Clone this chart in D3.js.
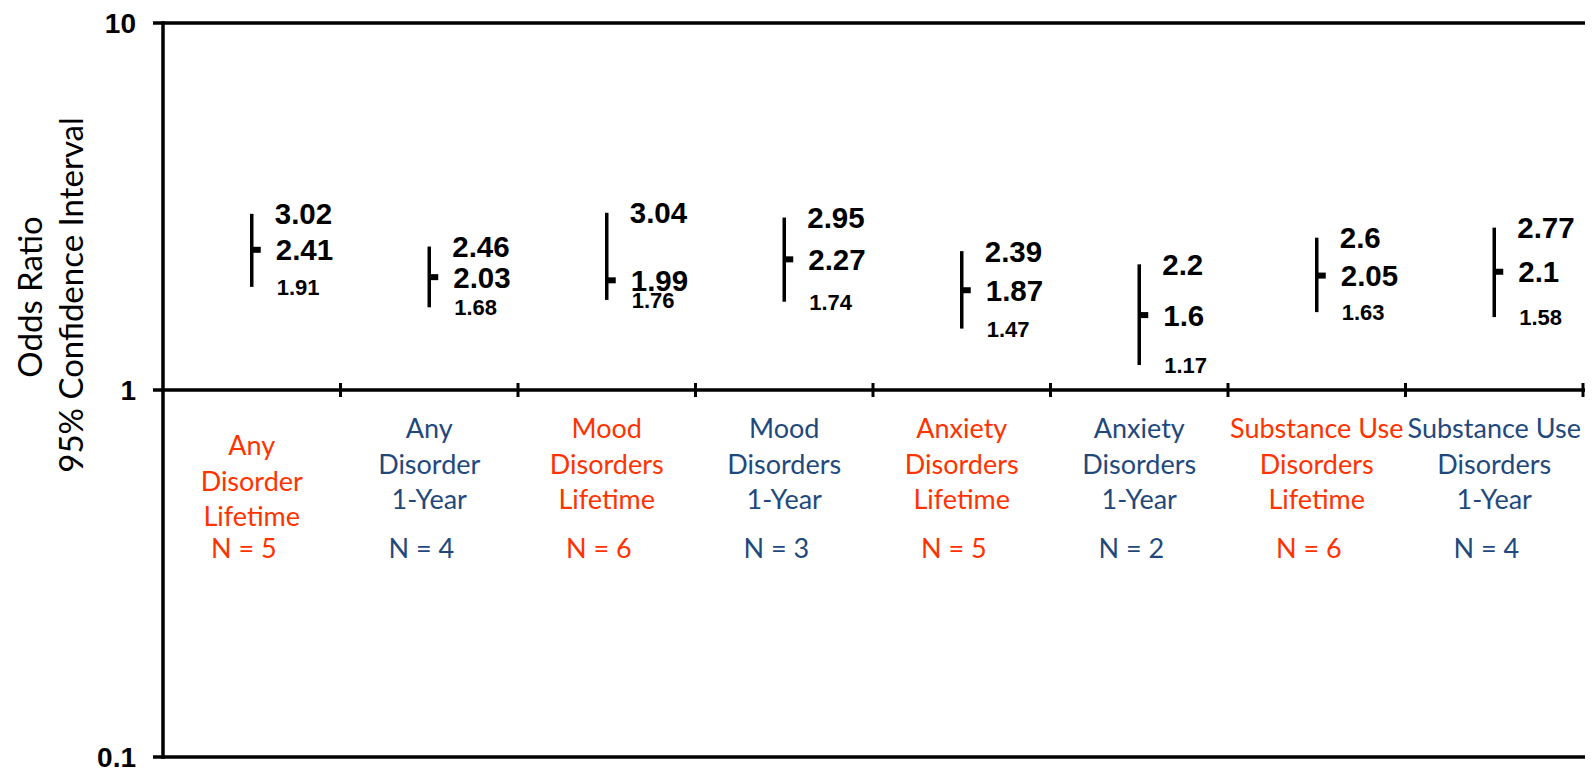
<!DOCTYPE html>
<html>
<head>
<meta charset="utf-8">
<script src="https://cdn.jsdelivr.net/npm/d3@7"></script>
<style>
  html, body { margin: 0; padding: 0; background: #fff; }
</style>
</head>
<body>
<div id="chart"></div>
<script>
// categories and their label lines
const categories = [
    "Any Disorder Lifetime", "Any Disorder 1-Year",
    "Mood Disorders Lifetime", "Mood Disorders 1-Year",
    "Anxiety Disorders Lifetime", "Anxiety Disorders 1-Year",
    "Substance Use Disorders Lifetime", "Substance Use Disorders 1-Year"
];
const labelLines = [
    ["Any", "Disorder", "Lifetime"], ["Any", "Disorder", "1-Year"],
    ["Mood", "Disorders", "Lifetime"], ["Mood", "Disorders", "1-Year"],
    ["Anxiety", "Disorders", "Lifetime"], ["Anxiety", "Disorders", "1-Year"],
    ["Substance Use", "Disorders", "Lifetime"], ["Substance Use", "Disorders", "1-Year"]
];
const periods = ["Lifetime", "1-Year", "Lifetime", "1-Year", "Lifetime", "1-Year", "Lifetime", "1-Year"];
const sampleSizes = [5, 4, 6, 3, 5, 2, 6, 4];

// odds ratios with 95% CI
const upperCI = [3.02, 2.46, 3.04, 2.95, 2.39, 2.2, 2.6, 2.77];
const oddsRatio = [2.41, 2.03, 1.99, 2.27, 1.87, 1.6, 2.05, 2.1];
const lowerCI = [1.91, 1.68, 1.76, 1.74, 1.47, 1.17, 1.63, 1.58];

// y axis
const yTicks = [0.1, 1, 10];
const yTickLabels = ["0.1", "1", "10"];

class ForestChart {
    constructor() {
        const attrs = {
            svgWidth: 1595,
            svgHeight: 771,
            marginTop: 23,
            marginBottom: 14,
            marginRight: 12,
            marginLeft: 163,
            container: "#chart",
            numberFont: "'Liberation Sans', Arial, sans-serif",
            labelFont: "Lato, 'Open Sans', sans-serif",
            lifetimeColor: "#FF3300",
            yearColor: "#1F497D",
            axisStroke: 3.5
        };
        this.getState = () => attrs;
        this.setState = (d) => Object.assign(attrs, d);
    }

    render() {
        this.calculateProperties();
        this.drawSvgAndWrappers();
        this.drawAxes();
        this.drawIntervals();
        this.drawCategoryLabels();
        return this;
    }

    calculateProperties() {
        const { svgWidth, svgHeight, marginTop, marginBottom, marginLeft, marginRight } = this.getState();
        const chartWidth = svgWidth - marginLeft - marginRight;
        const chartHeight = svgHeight - marginTop - marginBottom;

        const x = d3.scaleBand().domain(categories).range([0, chartWidth]).padding(0);
        const y = d3.scaleLog().domain([0.1, 10]).range([chartHeight, 0]);

        const rows = categories.map((c, i) => ({
            category: c,
            lines: labelLines[i],
            period: periods[i],
            n: sampleSizes[i],
            upper: upperCI[i],
            mid: oddsRatio[i],
            lower: lowerCI[i]
        }));

        this.setState({ chartWidth, chartHeight, x, y, rows });
    }

    drawSvgAndWrappers() {
        const { container, svgWidth, svgHeight, marginLeft, marginTop } = this.getState();
        const svg = d3.select(container).append("svg")
            .attr("width", svgWidth)
            .attr("height", svgHeight);
        const chart = svg.append("g")
            .attr("transform", `translate(${marginLeft},${marginTop})`);
        this.setState({ svg, chart });
    }

    drawAxes() {
        const { chart, svg, x, y, chartWidth, axisStroke, numberFont, labelFont } = this.getState();

        // horizontal reference lines at each decade
        chart.selectAll("line.h-line").data(yTicks).join("line")
            .attr("class", "h-line")
            .attr("x1", -10).attr("x2", chartWidth + 2)
            .attr("y1", d => y(d)).attr("y2", d => y(d))
            .attr("stroke", "#000").attr("stroke-width", axisStroke);

        // y axis
        chart.append("line")
            .attr("x1", 0).attr("x2", 0)
            .attr("y1", y(10) - axisStroke / 2).attr("y2", y(0.1) + axisStroke / 2)
            .attr("stroke", "#000").attr("stroke-width", axisStroke);

        // category boundary ticks on the OR = 1 line
        const bounds = categories.slice(1).map(c => x(c)).concat([chartWidth]);
        chart.selectAll("line.cat-tick").data(bounds).join("line")
            .attr("class", "cat-tick")
            .attr("x1", d => d).attr("x2", d => d)
            .attr("y1", y(1) - 7).attr("y2", y(1) + 7)
            .attr("stroke", "#000").attr("stroke-width", 3);

        chart.selectAll("text.y-label").data(yTicks).join("text")
            .attr("class", "y-label")
            .attr("x", -27)
            .attr("y", d => y(d))
            .attr("dy", "0.34em")
            .attr("text-anchor", "end")
            .attr("font-family", numberFont)
            .attr("font-weight", "bold")
            .attr("font-size", 28)
            .text((d, i) => yTickLabels[i]);

        // y title
        const title = svg.append("g")
            .attr("font-family", labelFont)
            .attr("font-size", 33)
            .attr("fill", "#000");
        title.append("text")
            .attr("transform", "translate(42,297) rotate(-90)")
            .attr("text-anchor", "middle")
            .text("Odds Ratio");
        title.append("text")
            .attr("transform", "translate(83,295) rotate(-90)")
            .attr("text-anchor", "middle")
            .text("95% Confidence Interval");
    }

    drawIntervals() {
        const { chart, x, y, rows, numberFont } = this.getState();
        const half = x.bandwidth() / 2;

        const g = chart.selectAll("g.interval").data(rows).join("g")
            .attr("class", "interval")
            .attr("transform", d => `translate(${x(d.category) + half},0)`);

        g.append("line")
            .attr("x1", 0).attr("x2", 0)
            .attr("y1", d => y(d.upper)).attr("y2", d => y(d.lower))
            .attr("stroke", "#000").attr("stroke-width", 3.5);

        g.append("rect")
            .attr("x", 0).attr("y", d => y(d.mid) - 3)
            .attr("width", 9).attr("height", 6)
            .attr("fill", "#000");

        const labels = [
            { key: "upper", size: 29.5, dx: 23 },
            { key: "mid", size: 29.5, dx: 24 },
            { key: "lower", size: 22, dx: 25 }
        ];
        labels.forEach(l => {
            g.append("text")
                .attr("x", l.dx)
                .attr("y", d => y(d[l.key]))
                .attr("dy", "0.36em")
                .attr("font-family", numberFont)
                .attr("font-weight", "bold")
                .attr("font-size", l.size)
                .attr("fill", "#000")
                .text(d => String(d[l.key]));
        });
    }

    drawCategoryLabels() {
        const { chart, x, rows, labelFont, lifetimeColor, yearColor, marginTop } = this.getState();
        const half = x.bandwidth() / 2;
        const lineH = 35.5;
        const firstBase = 438 - marginTop;

        const g = chart.selectAll("g.cat-label").data(rows).join("g")
            .attr("class", "cat-label")
            .attr("transform", d => `translate(${x(d.category) + half},0)`)
            .attr("font-family", labelFont)
            .attr("font-size", 27)
            .attr("text-anchor", "middle")
            .attr("fill", d => d.period === "Lifetime" ? lifetimeColor : yearColor);

        g.selectAll("text.line").data((d, i) => d.lines.map((t, j) => ({ t, j, first: i === 0 }))).join("text")
            .attr("class", "line")
            .attr("y", d => firstBase + d.j * lineH + (d.first ? 17 : 0)) // first label sits half a line lower
            .text(d => d.t);

        g.append("text")
            .attr("x", -8)
            .attr("y", 558 - marginTop)
            .text(d => `N = ${d.n}`);
    }
}

new ForestChart().render();
</script>
</body>
</html>
